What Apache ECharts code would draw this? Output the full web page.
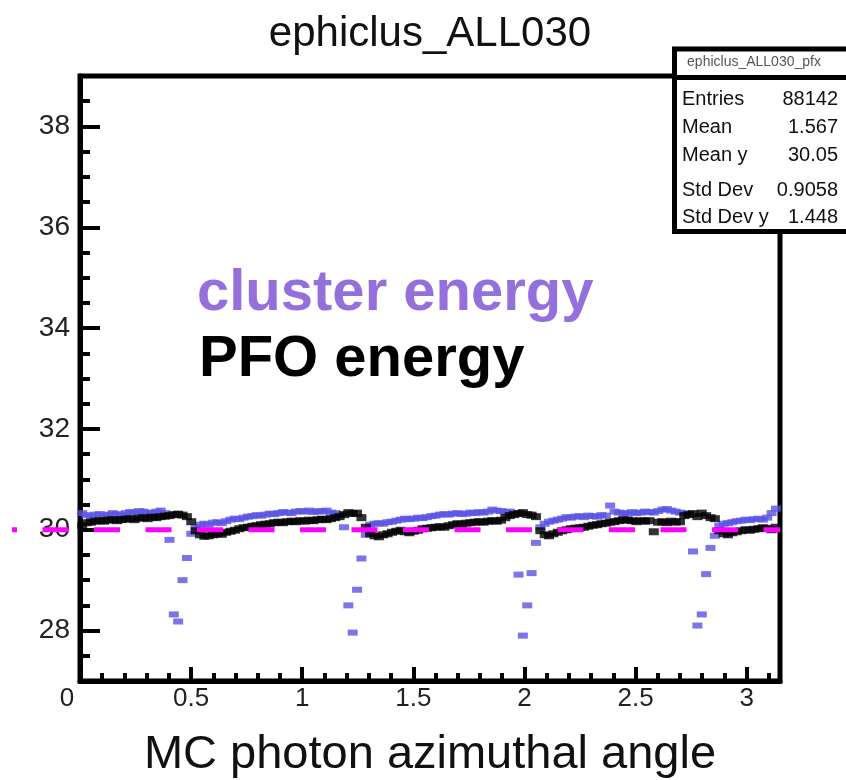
<!DOCTYPE html>
<html><head><meta charset="utf-8">
<script src="https://cdn.jsdelivr.net/npm/echarts@6/dist/echarts.min.js"></script>
<style>html,body{margin:0;padding:0;background:#fff}#c{width:846px;height:780px}</style>
</head><body><div id="c"></div>
<script>
// ---- data ----
const nBins = 160;               // profile bins over [0, pi]
const binRangeMax = Math.PI;
const clusterEnergy = [
  30.33, 30.29, 30.27, 30.30, 30.31, 30.28, 30.30, 30.33, 30.31, 30.29,
  30.33, 30.35, 30.34, 30.37, 30.36, 30.34, 30.33, 30.36, 30.38, 30.33,
  29.80, 28.32, 28.18, 29.00, 29.44, 29.92, 30.05, 30.10, 30.12, 30.10,
  30.14, 30.15, 30.13, 30.17, 30.20, 30.22, 30.21, 30.24, 30.26, 30.27,
  30.29, 30.28, 30.30, 30.32, 30.31, 30.33, 30.35, 30.34, 30.33, 30.36,
  30.37, 30.36, 30.38, 30.35, 30.37, 30.36, 30.38, 30.34, 30.33, 30.30,
  30.05, 28.50, 27.96, 28.81, 29.43, 29.90, 30.10, 30.12, 30.13, 30.12,
  30.15, 30.16, 30.18, 30.20, 30.22, 30.21, 30.22, 30.24, 30.23, 30.25,
  30.27, 30.28, 30.30, 30.31, 30.30, 30.32, 30.33, 30.31, 30.32, 30.34,
  30.33, 30.35, 30.34, 30.36, 30.40, 30.38, 30.37, 30.35, 30.36, 30.33,
  29.11, 27.90, 28.50, 29.14, 29.74, 30.05, 30.12, 30.16, 30.18, 30.20,
  30.22, 30.25, 30.24, 30.26, 30.27, 30.25, 30.28, 30.27, 30.26, 30.29,
  30.28, 30.48, 30.36, 30.34, 30.33, 30.32, 30.35, 30.33, 30.34, 30.36,
  30.35, 30.34, 30.37, 30.40, 30.41, 30.38, 30.36, 30.34, 30.33, 30.30,
  29.57, 28.10, 28.32, 29.12, 29.64, 29.88, 30.08, 30.12, 30.13, 30.15,
  30.17, 30.18, 30.20, 30.19, 30.21, 30.22, 30.20, 30.24, 30.33, 30.42
];
const pfoEnergy = [
  30.08, 30.14, 30.15, 30.17, 30.18, 30.17, 30.19, 30.20, 30.18, 30.20,
  30.21, 30.22, 30.20, 30.23, 30.24, 30.22, 30.25, 30.24, 30.26, 30.27,
  30.28, 30.30, 30.31, 30.29, 30.26, 30.16, 29.98, 29.90, 29.87, 29.88,
  29.90, 29.92, 29.91, 29.95, 29.97, 29.99, 30.02, 30.04, 30.05, 30.07,
  30.08, 30.10, 30.11, 30.12, 30.14, 30.15, 30.14, 30.16, 30.17, 30.16,
  30.18, 30.17, 30.19, 30.18, 30.20, 30.21, 30.20, 30.22, 30.24, 30.26,
  30.30, 30.34, 30.32, 30.33, 30.24, 30.05, 29.92, 29.88, 29.86, 29.90,
  29.92, 29.95, 29.97, 29.99, 29.96, 29.94, 29.97, 29.99, 30.02, 30.03,
  30.04, 30.05, 30.06, 30.05, 30.08, 30.10, 30.12, 30.11, 30.13, 30.14,
  30.15, 30.16, 30.15, 30.17, 30.18, 30.17, 30.19, 30.24, 30.28, 30.30,
  30.32, 30.34, 30.30, 30.29, 30.26, 29.98, 29.90, 29.88, 29.92, 29.95,
  29.98, 30.00, 30.02, 30.03, 30.04, 30.05, 30.07, 30.09, 30.10, 30.12,
  30.13, 30.15, 30.16, 30.18, 30.20, 30.19, 30.18, 30.16, 30.18, 30.17,
  30.18, 29.96, 30.15, 30.16, 30.14, 30.17, 30.15, 30.16, 30.28, 30.30,
  30.32, 30.26, 30.33, 30.28, 30.24, 30.22, 29.98, 29.92, 29.90, 29.94,
  29.96, 29.98, 30.00, 29.99, 30.01, 30.02, 30.04, 30.03, 30.00, 30.05
];
const refLineX = [-0.306, 3.15];
const refLineY = [30, 30];
const xRange = [0, 3.15];
const xRangeWide = [-0.36, 3.15];   // same scale, extended to the page's left edge
const yRange = [27, 39];
const chartTitle = 'ephiclus_ALL030';
const xAxisTitle = 'MC photon azimuthal angle';
const labelCluster = 'cluster energy';
const labelPFO = 'PFO energy';
const statsTitle = 'ephiclus_ALL030_pfx';
const statsNames = ['Entries', 'Mean', 'Mean y', 'Std Dev', 'Std Dev y'];
const statsValues = ['88142', '1.567', '30.05', '0.9058', '1.448'];

// ---- build ----
const binWidth = binRangeMax / nBins;
const binCenters = clusterEnergy.map((_, i) => (i + 0.5) * binWidth);
const FONT = '"Liberation Sans", Arial, Helvetica, sans-serif';
const statsRowY = [99.5, 127.5, 155, 190, 217];

const statsElems = [
  { type: 'rect', shape: { x: 674.5, y: 49, width: 200, height: 182.5 },
    style: { fill: '#fff', stroke: '#000', lineWidth: 5 } },
  { type: 'line', shape: { x1: 674.5, y1: 77.5, x2: 846, y2: 77.5 },
    style: { stroke: '#000', lineWidth: 5 } },
  { type: 'text', x: 754, y: 62, style: { text: statsTitle, fontSize: 14, fontFamily: FONT,
    fill: '#555', align: 'center', verticalAlign: 'middle' } }
];
statsNames.forEach((n, i) => {
  statsElems.push({ type: 'text', x: 682, y: statsRowY[i], style: { text: n, fontSize: 20,
    fontFamily: FONT, fill: '#111', align: 'left', verticalAlign: 'middle' } });
  statsElems.push({ type: 'text', x: 838, y: statsRowY[i], style: { text: statsValues[i], fontSize: 20,
    fontFamily: FONT, fill: '#111', align: 'right', verticalAlign: 'middle' } });
});

const hiddenAxis = { show: false, axisLine: { show: false }, axisTick: { show: false },
  axisLabel: { show: false }, splitLine: { show: false } };

const chart = echarts.init(document.getElementById('c'), null, { renderer: 'canvas' });
chart.setOption({
  animation: false,
  backgroundColor: '#fff',
  grid: [
    { left: 80, right: 66, top: 76, bottom: 99, show: true, borderColor: '#000', borderWidth: 5,
      backgroundColor: 'transparent', containLabel: false, outerBoundsMode: 'none' },
    { left: 0, right: 66, top: 76, bottom: 99, show: false, containLabel: false, outerBoundsMode: 'none' }
  ],
  xAxis: [{
    type: 'value', gridIndex: 0, min: xRange[0], max: xRange[1], interval: 0.5,
    name: xAxisTitle, nameLocation: 'middle', nameGap: 51,
    nameTextStyle: { fontSize: 47, fontFamily: FONT, color: '#111' },
    axisLine: { show: true, onZero: false, lineStyle: { color: '#000', width: 5 } },
    axisTick: { show: true, inside: true, length: 14, lineStyle: { color: '#000', width: 4 } },
    minorTick: { show: true, splitNumber: 5, length: 8, lineStyle: { color: '#000', width: 4 } },
    splitLine: { show: false },
    axisLabel: {
      showMaxLabel: false, margin: 5, fontSize: 26, fontFamily: FONT, color: '#222',
      formatter: v => (v === 0 ? '{z|0}' : String(v)),
      rich: { z: { fontSize: 26, fontFamily: FONT, color: '#222', padding: [0, 26, 0, 0] } }
    }
  }, Object.assign({ type: 'value', gridIndex: 1, min: xRangeWide[0], max: xRangeWide[1] }, hiddenAxis)],
  yAxis: [{
    type: 'value', gridIndex: 0, min: yRange[0], max: yRange[1], splitNumber: 6,
    axisLine: { show: true, onZero: false, lineStyle: { color: '#000', width: 5 } },
    axisTick: { show: true, inside: true, length: 20, lineStyle: { color: '#000', width: 4 } },
    minorTick: { show: true, splitNumber: 4, length: 10, lineStyle: { color: '#000', width: 4 } },
    splitLine: { show: false },
    axisLabel: { showMinLabel: false, showMaxLabel: false, margin: 10, fontSize: 28,
      fontFamily: FONT, color: '#222' }
  }, Object.assign({ type: 'value', gridIndex: 1, min: yRange[0], max: yRange[1] }, hiddenAxis)],
  series: [
    { name: labelCluster, type: 'scatter', symbol: 'rect', symbolSize: [10, 6],
      itemStyle: { color: '#5a52e4' }, z: 2,
      data: binCenters.map((x, i) => [x, clusterEnergy[i]]) },
    { name: labelPFO, type: 'scatter', symbol: 'rect', symbolSize: [10, 7],
      itemStyle: { color: '#000' }, z: 3,
      data: binCenters.map((x, i) => [x, pfoEnergy[i]]) },
    { name: 'reference', type: 'line', xAxisIndex: 1, yAxisIndex: 1, showSymbol: false, symbol: 'none', z: 4,
      lineStyle: { color: '#ff00ff', width: 5, type: [26, 25.5], dashOffset: 21 },
      data: refLineX.map((x, i) => [x, refLineY[i]]) }
  ],
  graphic: [
    { type: 'text', x: 430, y: 34, z: 100, style: { text: chartTitle, fontSize: 42, fontFamily: FONT,
      fill: '#111', align: 'center', verticalAlign: 'middle' } },
    { type: 'text', x: 197, y: 294, z: 100, style: { text: labelCluster, fontSize: 58, fontWeight: 'bold',
      fontFamily: FONT, fill: '#9370db', align: 'left', verticalAlign: 'middle' } },
    { type: 'text', x: 199, y: 360, z: 100, style: { text: labelPFO, fontSize: 58, fontWeight: 'bold',
      fontFamily: FONT, fill: '#000', align: 'left', verticalAlign: 'middle' } },
    { type: 'group', z: 100, children: statsElems }
  ]
});
</script>
</body></html>
